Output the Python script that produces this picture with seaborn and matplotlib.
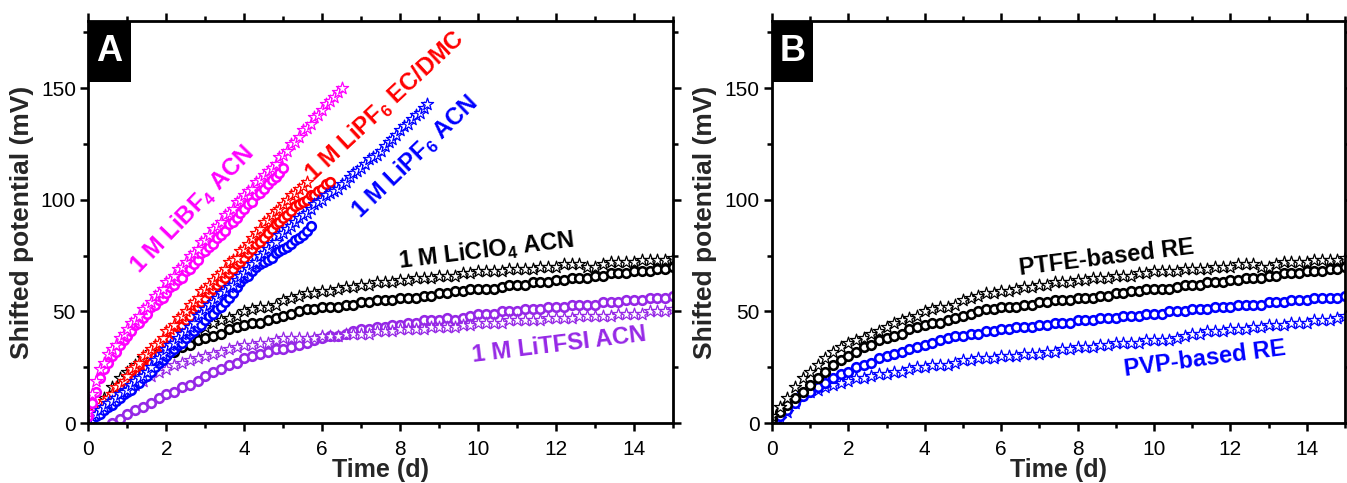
import numpy as np
import pandas as pd
import matplotlib
matplotlib.use("Agg")
import matplotlib.pyplot as plt
import seaborn as sns
from matplotlib.patches import Rectangle
from matplotlib.ticker import MultipleLocator

# ---------------- data: shifted potential (mV) vs time (d) ----------------
# fast-drifting electrolytes, one reading every 0.1 d starting at t = 0
libf4_star = [5, 13, 19, 24, 27, 31, 33, 35, 38, 40,
              42, 45, 46, 48, 51, 52, 54, 57, 58, 60,
              63, 64, 66, 69, 70, 72, 75, 76, 78, 81,
              82, 84, 87, 88, 90, 93, 94, 96, 99, 100,
              102, 104, 105, 108, 109, 111, 113, 114, 116, 119,
              120, 122, 125, 126, 128, 131, 132, 134, 137, 138,
              140, 143, 144, 146, 148, 150]
libf4_circ = [3, 9, 14, 20, 24, 27, 30, 32, 35, 37,
              39, 41, 44, 45, 47, 49, 52, 53, 55, 56,
              58, 61, 62, 64, 65, 68, 69, 71, 73, 76,
              77, 79, 80, 83, 84, 86, 89, 90, 92, 94,
              96, 98, 99, 102, 103, 105, 107, 109, 110, 112,
              114]
lipf6_ecdmc_star = [3, 5, 6, 8, 10, 11, 13, 16, 17, 19,
                    21, 24, 25, 27, 30, 31, 33, 35, 36, 38,
                    41, 42, 44, 47, 48, 50, 53, 54, 56, 59,
                    60, 62, 64, 66, 67, 69, 72, 73, 74, 77,
                    78, 80, 83, 85, 87, 90, 91, 93, 95, 96,
                    98, 100, 102, 103, 105, 106, 108]
lipf6_ecdmc_circ = [2, 3, 5, 6, 7, 9, 10, 11, 13, 15,
                    16, 18, 20, 22, 23, 25, 27, 30, 31, 34,
                    36, 38, 40, 43, 44, 46, 48, 51, 52, 54,
                    56, 58, 60, 62, 63, 65, 67, 69, 71, 72,
                    74, 76, 78, 80, 81, 83, 85, 87, 89, 90,
                    92, 93, 95, 97, 98, 99, 100, 102, 102, 104,
                    105, 107, 108]
lipf6_acn_star = [2, 3, 4, 6, 7, 9, 10, 11, 13, 14,
                  15, 17, 19, 20, 21, 23, 25, 28, 29, 31,
                  33, 35, 36, 38, 40, 41, 43, 45, 48, 49,
                  51, 53, 54, 56, 58, 59, 61, 62, 64, 66,
                  67, 69, 71, 72, 75, 76, 78, 80, 81, 84,
                  85, 87, 88, 90, 92, 93, 94, 96, 98, 99,
                  100, 102, 103, 104, 105, 107, 108, 110, 112, 113,
                  114, 116, 118, 119, 120, 122, 124, 126, 127, 129,
                  131, 133, 134, 136, 138, 139, 141, 143]
lipf6_acn_circ = [1, 2, 3, 4, 6, 7, 8, 10, 11, 13,
                  14, 15, 17, 18, 20, 21, 23, 25, 27, 28,
                  30, 32, 33, 35, 36, 38, 40, 41, 43, 44,
                  46, 48, 49, 51, 52, 54, 56, 58, 61, 63,
                  65, 66, 68, 70, 71, 72, 73, 74, 76, 77,
                  78, 79, 80, 82, 83, 84, 86, 88]

# slowly drifting electrolytes, one reading every 0.2 d up to 15 d
liclo4_star = [3, 7, 11, 16, 20, 23, 26, 29, 32, 34,
               36, 37, 38, 40, 41, 43, 45, 46, 47, 48,
               50, 51, 52, 52, 53, 55, 56, 57, 58, 58,
               59, 59, 60, 61, 61, 62, 62, 63, 63, 63,
               64, 64, 65, 65, 65, 66, 66, 66, 67, 67,
               68, 68, 68, 68, 69, 69, 69, 69, 70, 70,
               70, 71, 71, 71, 70, 70, 71, 72, 72, 72,
               72, 73, 73, 73, 73, 74]
liclo4_circ = [2, 5, 8, 11, 14, 17, 20, 23, 26, 28,
               30, 32, 34, 35, 37, 38, 39, 40, 42, 43,
               44, 45, 45, 46, 47, 48, 49, 50, 51, 51,
               52, 52, 52, 53, 53, 54, 54, 55, 55, 55,
               56, 56, 56, 57, 57, 58, 58, 59, 59, 60,
               60, 60, 60, 61, 62, 62, 62, 63, 63, 63,
               64, 64, 65, 65, 65, 66, 66, 67, 67, 67,
               68, 68, 68, 69, 69, 70]
litfsi_star = [1, 4, 7, 10, 13, 15, 17, 19, 21, 23,
               24, 26, 27, 28, 29, 30, 31, 32, 33, 34,
               35, 35, 36, 36, 37, 38, 38, 38, 38, 38,
               39, 39, 39, 40, 40, 40, 40, 41, 41, 41,
               42, 42, 42, 42, 43, 43, 43, 43, 44, 44,
               45, 45, 45, 45, 46, 46, 46, 46, 46, 47,
               47, 47, 47, 48, 48, 48, 48, 48, 49, 49,
               49, 49, 50, 50, 50, 51]
# LiTFSI circles start at 0.6 d
litfsi_circ = [0, 2, 4, 6, 7, 9, 11,
               13, 14, 16, 17, 19, 21, 23, 24, 26, 27,
               29, 30, 31, 32, 33, 33, 34, 35, 36, 37,
               38, 39, 39, 40, 41, 42, 42, 43, 43, 44,
               44, 45, 45, 46, 46, 46, 47, 46, 47, 48,
               49, 49, 49, 50, 50, 50, 51, 51, 51, 52,
               52, 52, 53, 53, 53, 53, 54, 54, 54, 55,
               55, 55, 56, 56, 56, 57]
# PVP-based reference electrode (panel B)
pvp_circ = [1, 3, 6, 9, 12, 14, 16, 18, 20, 22,
            23, 25, 26, 27, 29, 30, 31, 32, 33, 34,
            35, 36, 37, 38, 39, 39, 40, 40, 41, 41,
            42, 42, 43, 43, 43, 44, 44, 45, 45, 45,
            46, 46, 46, 47, 47, 47, 48, 48, 48, 49,
            49, 49, 50, 50, 50, 51, 51, 51, 52, 52,
            52, 53, 53, 53, 53, 54, 54, 54, 55, 55,
            55, 56, 56, 56, 56, 57]
pvp_star = [0, 2, 5, 9, 13, 14, 15, 16, 17, 18,
            19, 20, 20, 21, 22, 22, 23, 23, 24, 25,
            25, 26, 26, 26, 27, 28, 28, 29, 29, 29,
            30, 30, 30, 31, 31, 31, 32, 32, 33, 33,
            34, 34, 34, 35, 35, 36, 36, 36, 36, 37,
            37, 37, 37, 38, 39, 40, 40, 41, 41, 41,
            42, 42, 42, 43, 43, 44, 44, 44, 45, 45,
            45, 46, 46, 46, 47, 48]

MAGENTA, RED, BLUE, BLACK, PURPLE = "#FF00FF", "#FF0000", "#0000FF", "#000000", "#9628E6"

# ---------------- style ----------------
sns.set_style("ticks")
FONT = ["Liberation Sans", "DejaVu Sans"]
plt.rcParams["font.family"] = FONT
plt.rcParams["mathtext.fontset"] = "custom"
plt.rcParams["mathtext.rm"] = "Liberation Sans"
plt.rcParams["mathtext.bf"] = "Liberation Sans:bold"

fig = plt.figure(figsize=(13.47, 4.83), dpi=100)
axA = fig.add_axes([0.0657, 0.1242, 0.4339, 0.8323])
axB = fig.add_axes([0.5731, 0.1242, 0.4254, 0.8323])


def series(ax, values, step, color, marker, start=0.0, z=2):
    t = start + step * np.arange(len(values))
    df = pd.DataFrame({"time": t, "shift": values})
    if marker == "*":
        size, lw = 85, 0.9
    else:
        size, lw = 38, 1.9
    sns.scatterplot(data=df, x="time", y="shift", ax=ax, marker=marker, s=size,
                    facecolor="white", edgecolor=color, linewidth=lw,
                    legend=False, zorder=z, clip_on=True)


# panel A
series(axA, litfsi_circ, 0.2, PURPLE, "o", start=0.6)
series(axA, litfsi_star, 0.2, PURPLE, "*")
series(axA, liclo4_circ, 0.2, BLACK, "o")
series(axA, liclo4_star, 0.2, BLACK, "*")
series(axA, lipf6_ecdmc_circ, 0.1, RED, "o")
series(axA, lipf6_ecdmc_star, 0.1, RED, "*")
series(axA, lipf6_acn_circ, 0.1, BLUE, "o")
series(axA, lipf6_acn_star, 0.1, BLUE, "*")
series(axA, libf4_circ, 0.1, MAGENTA, "o")
series(axA, libf4_star, 0.1, MAGENTA, "*")

# panel B
series(axB, pvp_star, 0.2, BLUE, "*")
series(axB, pvp_circ, 0.2, BLUE, "o")
series(axB, liclo4_circ, 0.2, BLACK, "o")
series(axB, liclo4_star, 0.2, BLACK, "*")

ann = dict(fontsize=17, fontweight="bold", ha="center", va="center", family=FONT)
axA.text(2.66, 95.5, r"1 M LiBF$_{\mathbf{4}}$ ACN", color=MAGENTA, rotation=46, **ann)
axA.text(7.61, 142, r"1 M LiPF$_{\mathbf{6}}$ EC/DMC", color=RED, rotation=43, **ann)
axA.text(8.38, 119, r"1 M LiPF$_{\mathbf{6}}$ ACN", color=BLUE, rotation=44, **ann)
axA.text(10.2, 77, r"1 M LiClO$_{\mathbf{4}}$ ACN", color=BLACK, rotation=7, **ann)
axA.text(12.08, 35, "1 M LiTFSI ACN", color=PURPLE, rotation=7, **ann)
axB.text(8.77, 74, "PTFE-based RE", color=BLACK, rotation=7, **ann)
axB.text(11.33, 28.5, "PVP-based RE", color=BLUE, rotation=7.5, **ann)

for ax, letter in ((axA, "A"), (axB, "B")):
    ax.set_xlim(0, 15)
    ax.set_ylim(0, 180)
    ax.xaxis.set_major_locator(MultipleLocator(2))
    ax.xaxis.set_minor_locator(MultipleLocator(1))
    ax.yaxis.set_major_locator(MultipleLocator(50))
    ax.yaxis.set_minor_locator(MultipleLocator(25))
    ax.tick_params(which="both", direction="out", top=True, right=True,
                   labeltop=False, labelright=False, width=1.8, colors="black")
    ax.tick_params(which="major", length=5.5, labelsize=15)
    ax.tick_params(axis="x", which="major", pad=7)
    ax.tick_params(axis="y", which="major", pad=3.5)
    ax.tick_params(which="minor", length=3.5)
    for sp in ax.spines.values():
        sp.set_linewidth(2.0)
        sp.set_color("black")
    ax.set_xlabel("Time (d)", fontsize=18, fontweight="bold", labelpad=-1, family=FONT)
    ax.set_ylabel("Shifted potential (mV)", fontsize=19, fontweight="bold",
                  labelpad=5, family=FONT)
    ax.add_patch(Rectangle((0, 0.848), 0.072, 0.152, transform=ax.transAxes,
                           facecolor="black", edgecolor="none", zorder=5, clip_on=False))
    ax.text(0.036, 0.924, letter, transform=ax.transAxes, color="white",
            fontsize=26, fontweight="bold", ha="center", va="center", zorder=6,
            family=FONT)

fig.savefig("out.png", dpi=100)
